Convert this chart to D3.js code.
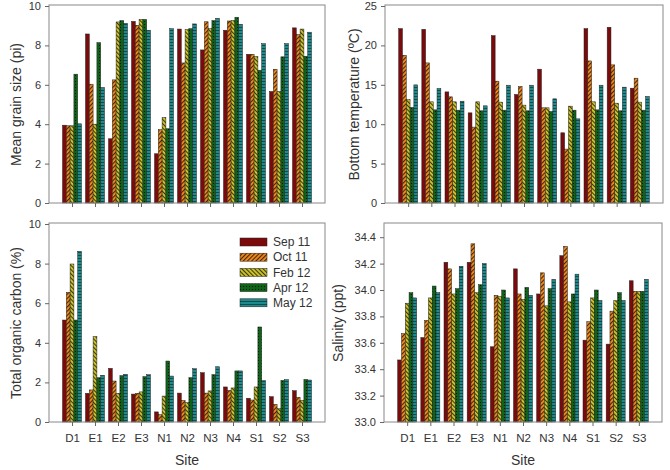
<!DOCTYPE html>
<html>
<head>
<meta charset="utf-8">
<script src="https://cdn.jsdelivr.net/npm/d3@7"></script>
<style>
	body { margin: 0; background: #fff; }
	svg { font-family: 'Liberation Sans', Arial, sans-serif; }
	.frame { fill: none; stroke: #888; stroke-width: 1; }
	.axis path { stroke: #888; }
	.axis line { stroke: #666; }
	.axis text { fill: #333; font-size: 11px; }
	.bar { stroke: #222; stroke-width: 0.5; }
</style>
</head>
<body>
<svg id="viz" width="670" height="470"></svg>
<script>
var sites = [ 'D1', 'E1', 'E2', 'E3', 'N1', 'N2', 'N3', 'N4', 'S1', 'S2', 'S3' ];
var months = [ 'Sep 11', 'Oct 11', 'Feb 12', 'Apr 12', 'May 12' ];

// values per month, in site order
var grainSize = [
	[ 3.95, 8.58, 3.26, 9.22, 2.50, 8.83, 7.77, 8.77, 7.55, 5.66, 8.89 ],
	[ 3.92, 6.03, 6.25, 9.02, 3.72, 7.11, 9.20, 9.24, 7.55, 6.79, 8.55 ],
	[ 3.92, 4.00, 9.19, 9.32, 4.34, 8.80, 8.85, 9.26, 7.43, 5.66, 8.83 ],
	[ 6.54, 8.14, 9.26, 9.32, 3.77, 8.85, 9.26, 9.43, 6.74, 7.42, 7.45 ],
	[ 4.02, 5.86, 9.12, 8.77, 8.85, 9.09, 9.37, 9.07, 8.09, 8.09, 8.67 ]
];
var temperature = [
	[ 22.13, 22.04, 14.10, 11.44, 21.24, 13.77, 16.98, 8.91, 22.13, 22.30, 14.57 ],
	[ 18.75, 17.78, 13.47, 9.63, 15.46, 14.78, 12.08, 6.84, 18.03, 17.53, 15.84 ],
	[ 13.13, 12.84, 12.84, 12.84, 12.80, 12.42, 12.08, 12.29, 12.84, 12.67, 12.80 ],
	[ 12.12, 11.82, 11.78, 11.70, 11.78, 11.70, 11.61, 11.78, 11.82, 11.70, 11.78 ],
	[ 14.99, 14.53, 12.92, 12.33, 14.95, 14.95, 13.22, 10.68, 14.95, 14.70, 13.51 ]
];
var organicCarbon = [
	[ 5.15, 1.45, 2.71, 1.41, 0.51, 1.46, 2.49, 1.77, 1.20, 1.28, 1.58 ],
	[ 6.55, 1.62, 2.07, 1.45, 0.37, 1.09, 1.46, 1.60, 1.11, 0.89, 1.25 ],
	[ 7.98, 4.31, 1.45, 1.52, 1.31, 0.98, 1.57, 1.72, 1.77, 0.67, 1.09 ],
	[ 5.15, 2.24, 2.34, 2.29, 3.08, 2.24, 2.39, 2.58, 4.80, 2.10, 2.15 ],
	[ 8.62, 2.36, 2.41, 2.39, 2.32, 2.69, 2.79, 2.58, 2.09, 2.14, 2.12 ]
];
var salinity = [
	[ 33.47, 33.64, 34.21, 34.21, 33.57, 34.16, 33.97, 34.26, 33.62, 33.59, 34.07 ],
	[ 33.67, 33.77, 34.16, 34.35, 33.96, 33.97, 34.13, 34.33, 33.76, 33.84, 33.99 ],
	[ 33.90, 33.94, 33.97, 33.98, 33.95, 33.93, 33.88, 33.91, 33.94, 33.92, 33.99 ],
	[ 33.98, 34.03, 34.01, 34.04, 34.00, 34.02, 34.01, 33.97, 34.00, 33.98, 33.99 ],
	[ 33.94, 33.98, 34.18, 34.20, 33.94, 33.96, 34.08, 34.12, 33.92, 33.92, 34.08 ]
];

var fills = [ '#7a0a0c', 'url(#p-oct)', 'url(#p-feb)', 'url(#p-apr)', 'url(#p-may)' ];

var svg = d3.select( '#viz' );
var defs = svg.append( 'defs' );

function stripes( id, bg, fg, angle ) {
	var p = defs.append( 'pattern' )
		.attr( 'id', id )
		.attr( 'width', 3 )
		.attr( 'height', 3 )
		.attr( 'patternUnits', 'userSpaceOnUse' )
		.attr( 'patternTransform', 'rotate(' + angle + ')' );
	p.append( 'rect' ).attr( 'width', 3 ).attr( 'height', 3 ).attr( 'fill', bg );
	p.append( 'rect' ).attr( 'width', 1.1 ).attr( 'height', 3 ).attr( 'fill', fg );
}
stripes( 'p-oct', '#ee8c22', '#4a2400', 45 );
stripes( 'p-feb', '#cfc635', '#3c3a00', -45 );

var apr = defs.append( 'pattern' )
	.attr( 'id', 'p-apr' )
	.attr( 'width', 3 ).attr( 'height', 3 )
	.attr( 'patternUnits', 'userSpaceOnUse' );
apr.append( 'rect' ).attr( 'width', 3 ).attr( 'height', 3 ).attr( 'fill', '#0f6318' );
apr.append( 'rect' ).attr( 'width', 1 ).attr( 'height', 1 ).attr( 'fill', '#021a04' );

var may = defs.append( 'pattern' )
	.attr( 'id', 'p-may' )
	.attr( 'width', 3 ).attr( 'height', 3 )
	.attr( 'patternUnits', 'userSpaceOnUse' );
may.append( 'rect' ).attr( 'width', 3 ).attr( 'height', 3 ).attr( 'fill', '#1f8a8c' );
may.append( 'rect' ).attr( 'width', 3 ).attr( 'height', 0.8 ).attr( 'fill', '#0b3c3e' );

var panels = [
	{ data: grainSize, x0: 49, x1: 325, y0: 6, y1: 203, domain: [ 0, 10 ], ticks: d3.range( 0, 10.1, 2 ), fmt: d3.format( 'd' ), title: 'Mean grain size (pi)', titleX: 16, labels: false },
	{ data: temperature, x0: 385, x1: 663, y0: 6, y1: 203, domain: [ 0, 25 ], ticks: d3.range( 0, 25.1, 5 ), fmt: d3.format( 'd' ), title: 'Bottom temperature (\u00baC)', titleX: 354, labels: false },
	{ data: organicCarbon, x0: 49, x1: 325, y0: 224, y1: 422, domain: [ 0, 10 ], ticks: d3.range( 0, 10.1, 2 ), fmt: d3.format( 'd' ), title: 'Total organic carbon (%)', titleX: 16, labels: true },
	{ data: salinity, x0: 384, x1: 662, y0: 224, y1: 422, domain: [ 33, 34.5 ], ticks: [ 33.0, 33.2, 33.4, 33.6, 33.8, 34.0, 34.2, 34.4 ], fmt: d3.format( '.1f' ), title: 'Salinity (ppt)', titleX: 338, labels: true }
];

panels.forEach( function ( p ) {
	var x = d3.scalePoint().domain( sites ).range( [ p.x0, p.x1 ] ).padding( 1 );
	var xs = d3.scaleBand().domain( d3.range( months.length ) ).range( [ -9.5, 9.5 ] );
	var y = d3.scaleLinear().domain( p.domain ).range( [ p.y1, p.y0 ] );
	var g = svg.append( 'g' );

	months.forEach( function ( m, mi ) {
		g.selectAll( null )
			.data( p.data[mi] )
			.enter()
			.append( 'rect' )
			.attr( 'class', 'bar' )
			.attr( 'x', function ( d, i ) { return x( sites[i] ) + xs( mi ); } )
			.attr( 'y', function ( d ) { return y( d ); } )
			.attr( 'width', xs.bandwidth() )
			.attr( 'height', function ( d ) { return y( p.domain[0] ) - y( d ); } )
			.attr( 'fill', fills[mi] );
	} );

	g.append( 'rect' )
		.attr( 'class', 'frame' )
		.attr( 'x', p.x0 ).attr( 'y', p.y0 - 1 )
		.attr( 'width', p.x1 - p.x0 ).attr( 'height', p.y1 - p.y0 + 1 );

	var ya = g.append( 'g' )
		.attr( 'class', 'axis' )
		.attr( 'transform', 'translate(' + p.x0 + ',0)' )
		.call( d3.axisLeft( y ).tickValues( p.ticks ).tickFormat( p.fmt ).tickSize( 4 ).tickPadding( 4 ) );
	ya.select( '.domain' ).remove();

	var xa = g.append( 'g' )
		.attr( 'class', 'axis' )
		.attr( 'transform', 'translate(0,' + p.y1 + ')' )
		.call( d3.axisBottom( x ).tickSize( 4 ).tickPadding( 8 ) );
	xa.select( '.domain' ).remove();
	if ( !p.labels ) xa.selectAll( 'text' ).remove();
	else xa.selectAll( 'text' ).style( 'font-size', '11.5px' );

	g.append( 'text' )
		.attr( 'transform', 'translate(' + p.titleX + ',' + ( ( p.y0 + p.y1 ) / 2 ) + ') rotate(-90)' )
		.attr( 'text-anchor', 'middle' )
		.attr( 'dy', '0.35em' )
		.style( 'font-size', '14px' )
		.attr( 'fill', '#333' )
		.text( p.title );

	if ( p.labels ) {
		g.append( 'text' )
			.attr( 'x', ( p.x0 + p.x1 ) / 2 )
			.attr( 'y', 465 )
			.attr( 'text-anchor', 'middle' )
			.style( 'font-size', '14px' )
			.attr( 'fill', '#333' )
			.text( 'Site' );
	}
} );

// legend
var legend = svg.append( 'g' ).attr( 'transform', 'translate(240,238)' );
legend.selectAll( 'rect' )
	.data( months )
	.enter()
	.append( 'rect' )
	.attr( 'class', 'bar' )
	.attr( 'x', 0 )
	.attr( 'y', function ( d, i ) { return i * 15.2; } )
	.attr( 'width', 27 )
	.attr( 'height', 8 )
	.attr( 'fill', function ( d, i ) { return fills[i]; } );
legend.selectAll( 'text' )
	.data( months )
	.enter()
	.append( 'text' )
	.attr( 'x', 33 )
	.attr( 'y', function ( d, i ) { return i * 15.2 + 4; } )
	.attr( 'dy', '0.35em' )
	.style( 'font-size', '12px' )
	.attr( 'fill', '#333' )
	.text( function ( d ) { return d; } );
</script>
</body>
</html>
